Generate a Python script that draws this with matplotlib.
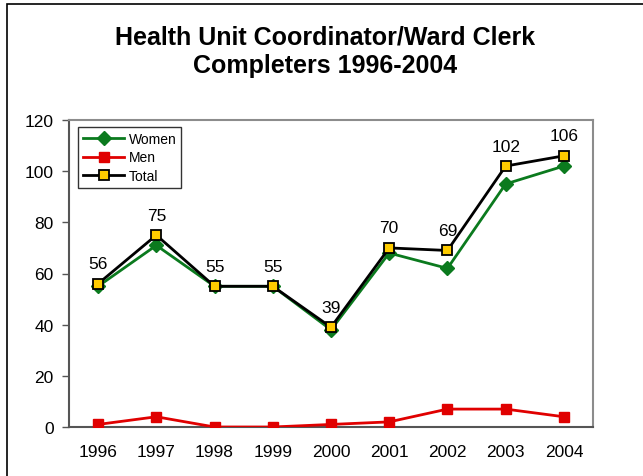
import numpy as np
import matplotlib
matplotlib.use("Agg")
import matplotlib.pyplot as plt
from matplotlib.patches import Rectangle

plt.rcParams['font.family'] = ['Liberation Sans', 'DejaVu Sans']

years = ['1996', '1997', '1998', '1999', '2000', '2001', '2002', '2003', '2004']
women = [55, 71, 55, 55, 38, 68, 62, 95, 102]
men = [1, 4, 0, 0, 1, 2, 7, 7, 4]
total = [56, 75, 55, 55, 39, 70, 69, 102, 106]

fig = plt.figure(figsize=(6.43, 4.77), dpi=100)
ax = fig.add_axes([69/643, 1 - 428/477, (593 - 69)/643, (428 - 121)/477])

# outer frame (top + left only visible)
fig.patches.append(Rectangle((7/643, -0.05), 1.2, 1.05 - 5/477, transform=fig.transFigure,
                             fill=False, edgecolor='black', linewidth=1.2))

x = np.arange(len(years))
ax.plot(x, women, color='#0b7a1e', linewidth=2, marker='D', markersize=7,
        markerfacecolor='#0b7a1e', markeredgecolor='#0b7a1e', label='Women', zorder=3)
ax.plot(x, men, color='#e00000', linewidth=2, marker='s', markersize=7.5,
        markerfacecolor='#e00000', markeredgecolor='#e00000', label='Men', zorder=3)
ax.plot(x, total, color='black', linewidth=2, marker='s', markersize=7.5,
        markerfacecolor='#ffcc00', markeredgecolor='black', markeredgewidth=1.3,
        label='Total', zorder=4)

for xi, v in zip(x, total):
    ax.annotate(str(v), (xi, v), xytext=(0, 9), textcoords='offset points',
                ha='center', va='bottom', fontsize=12.5)

ax.set_xlim(-0.5, len(years) - 0.5)
ax.set_ylim(0, 120)
ax.set_yticks(range(0, 121, 20))
ax.set_xticks(x)
ax.set_xticklabels(years)
ax.tick_params(axis='y', direction='out', length=5, width=1, color='#555555',
               labelsize=12.5, pad=6)
ax.tick_params(axis='x', length=0, labelsize=12.5, pad=12)

for s in ['top', 'right']:
    ax.spines[s].set_color('#8c8c8c')
    ax.spines[s].set_linewidth(1.5)
for s in ['left', 'bottom']:
    ax.spines[s].set_color('#555555')
    ax.spines[s].set_linewidth(1.5)

leg = ax.legend(loc='upper left', bbox_to_anchor=(0.017, 0.978), fontsize=10,
                frameon=True, fancybox=False, handlelength=3.0, handletextpad=0.3,
                labelspacing=0.35, borderpad=0.35, borderaxespad=0)
leg.get_frame().set_edgecolor('black')
leg.get_frame().set_linewidth(1)

fig.text(0.505, 1 - 52/477, 'Health Unit Coordinator/Ward Clerk\nCompleters 1996-2004',
         ha='center', va='center', fontsize=18, fontweight='bold', linespacing=1.25)

fig.savefig('out.png', dpi=100)
